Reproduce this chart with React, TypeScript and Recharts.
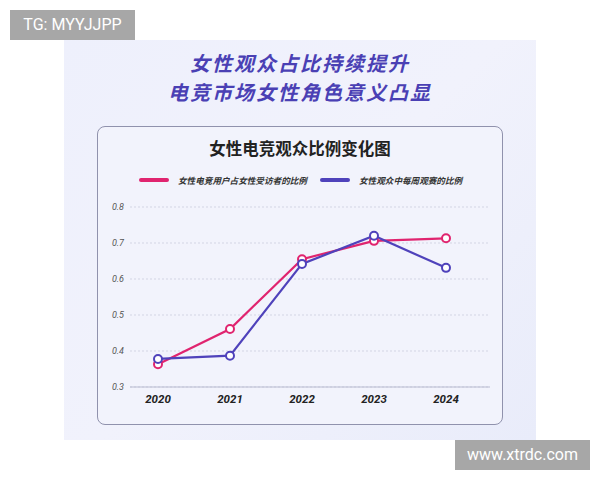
import { LineChart, Line, XAxis, YAxis, CartesianGrid } from "recharts";

const years = ["2020", "2021", "2022", "2023", "2024"];
const userShare = [0.363, 0.461, 0.655, 0.706, 0.713];
const weeklyShare = [0.378, 0.387, 0.642, 0.72, 0.631];
const yTicks = [0.3, 0.4, 0.5, 0.6, 0.7, 0.8];

const titleLines = ["女性观众占比持续提升", "电竞市场女性角色意义凸显"];
const seriesNames = ["女性电竞用户占女性受访者的比例", "女性观众中每周观赛的比例"];
const PINK = "#e0246f";
const BLUE = "#4f42bb";

const data = years.map((year, i) => ({
    year,
    user: userShare[i],
    weekly: weeklyShare[i],
}));

const cjk = '"Noto Sans CJK SC", "Noto Sans", sans-serif';

function LegendItem({ color, label, left }: { color: string; label: string; left: number }) {
    return (
        <div style={{ position: "absolute", left, top: 174, display: "flex", alignItems: "center", height: 12 }}>
            <div style={{ width: 30, height: 4, borderRadius: 2, background: color, marginRight: 9 }} />
            <span style={{ fontFamily: cjk, fontSize: 8.6, lineHeight: "12px", fontWeight: 700, color: "#333", fontStyle: "italic" }}>
                {label}
            </span>
        </div>
    );
}

function TitleLine({ text, top }: { text: string; top: number }) {
    return (
        <div
            style={{
                position: "absolute",
                left: 64,
                top,
                width: 472,
                height: 29,
                textAlign: "center",
                fontFamily: cjk,
                fontWeight: 700,
                fontSize: 20,
                letterSpacing: 2,
                lineHeight: "29px",
                color: "#4a40b4",
                fontStyle: "italic",
            }}
        >
            {text}
        </div>
    );
}

export default function App() {
    return (
        <div style={{ position: "absolute", left: 0, top: 0, width: 600, height: 480, background: "#fff", overflow: "hidden" }}>
            <div
                style={{
                    position: "absolute",
                    left: 64,
                    top: 40,
                    width: 472,
                    height: 400,
                    background: "linear-gradient(135deg, #eef0fc 0%, #f1f2fc 50%, #e9ecfa 100%)",
                }}
            />
            <TitleLine text={titleLines[0]} top={48} />
            <TitleLine text={titleLines[1]} top={77} />
            <div
                style={{
                    position: "absolute",
                    left: 97,
                    top: 126,
                    width: 406,
                    height: 299,
                    boxSizing: "border-box",
                    border: "1.5px solid #9092ad",
                    borderRadius: 8,
                    background: "#f2f3fc",
                }}
            />
            <div
                style={{
                    position: "absolute",
                    left: 97,
                    top: 136,
                    width: 406,
                    textAlign: "center",
                    fontFamily: cjk,
                    fontWeight: 700,
                    fontSize: 16.5,
                    color: "#222",
                }}
            >
                女性电竞观众比例变化图
            </div>
            <LegendItem color={PINK} label={seriesNames[0]} left={139} />
            <LegendItem color={BLUE} label={seriesNames[1]} left={320} />
            <div style={{ position: "absolute", left: 95, top: 195 }}>
                <LineChart width={420} height={240} data={data} margin={{ top: 12, right: 25, bottom: 18, left: 5 }}>
                    <CartesianGrid vertical={false} stroke="#d3d5e4" strokeDasharray="2 2" />
                    <XAxis
                        dataKey="year"
                        padding={{ left: 28, right: 44 }}
                        axisLine={{ stroke: "#b9bbd0", strokeWidth: 1 }}
                        tickLine={false}
                        tickSize={6}
                        tickMargin={2}
                        height={30}
                        tick={{ fill: "#222", fontSize: 11.5, fontWeight: 700, fontStyle: "italic", fontFamily: "Roboto, sans-serif" }}
                    />
                    <YAxis
                        domain={[0.3, 0.8]}
                        ticks={yTicks}
                        width={30}
                        axisLine={false}
                        tickLine={false}
                        tickSize={4}
                        tickMargin={2}
                        tickFormatter={(v: number) => v.toFixed(1)}
                        tick={{ fill: "#555", fontSize: 9, fontStyle: "italic", fontFamily: "Roboto, sans-serif" }}
                    />
                    <Line
                        dataKey="user"
                        stroke={PINK}
                        strokeWidth={2.2}
                        dot={{ r: 4, fill: "#fff", stroke: PINK, strokeWidth: 2 }}
                        isAnimationActive={false}
                    />
                    <Line
                        dataKey="weekly"
                        stroke={BLUE}
                        strokeWidth={2.2}
                        dot={{ r: 4, fill: "#fff", stroke: BLUE, strokeWidth: 2 }}
                        isAnimationActive={false}
                    />
                </LineChart>
            </div>
            <div
                style={{
                    position: "absolute",
                    left: 10,
                    top: 10,
                    width: 125,
                    height: 30,
                    background: "#a7a7a7",
                    color: "#fff",
                    fontFamily: "Roboto, sans-serif",
                    fontSize: 16,
                    lineHeight: "30px",
                    textAlign: "center",
                }}
            >
                TG: MYYJJPP
            </div>
            <div
                style={{
                    position: "absolute",
                    left: 455,
                    top: 440,
                    width: 135,
                    height: 30,
                    background: "#a7a7a7",
                    color: "#fff",
                    fontFamily: "Roboto, sans-serif",
                    fontSize: 16,
                    lineHeight: "30px",
                    textAlign: "center",
                }}
            >
                www.xtrdc.com
            </div>
        </div>
    );
}
